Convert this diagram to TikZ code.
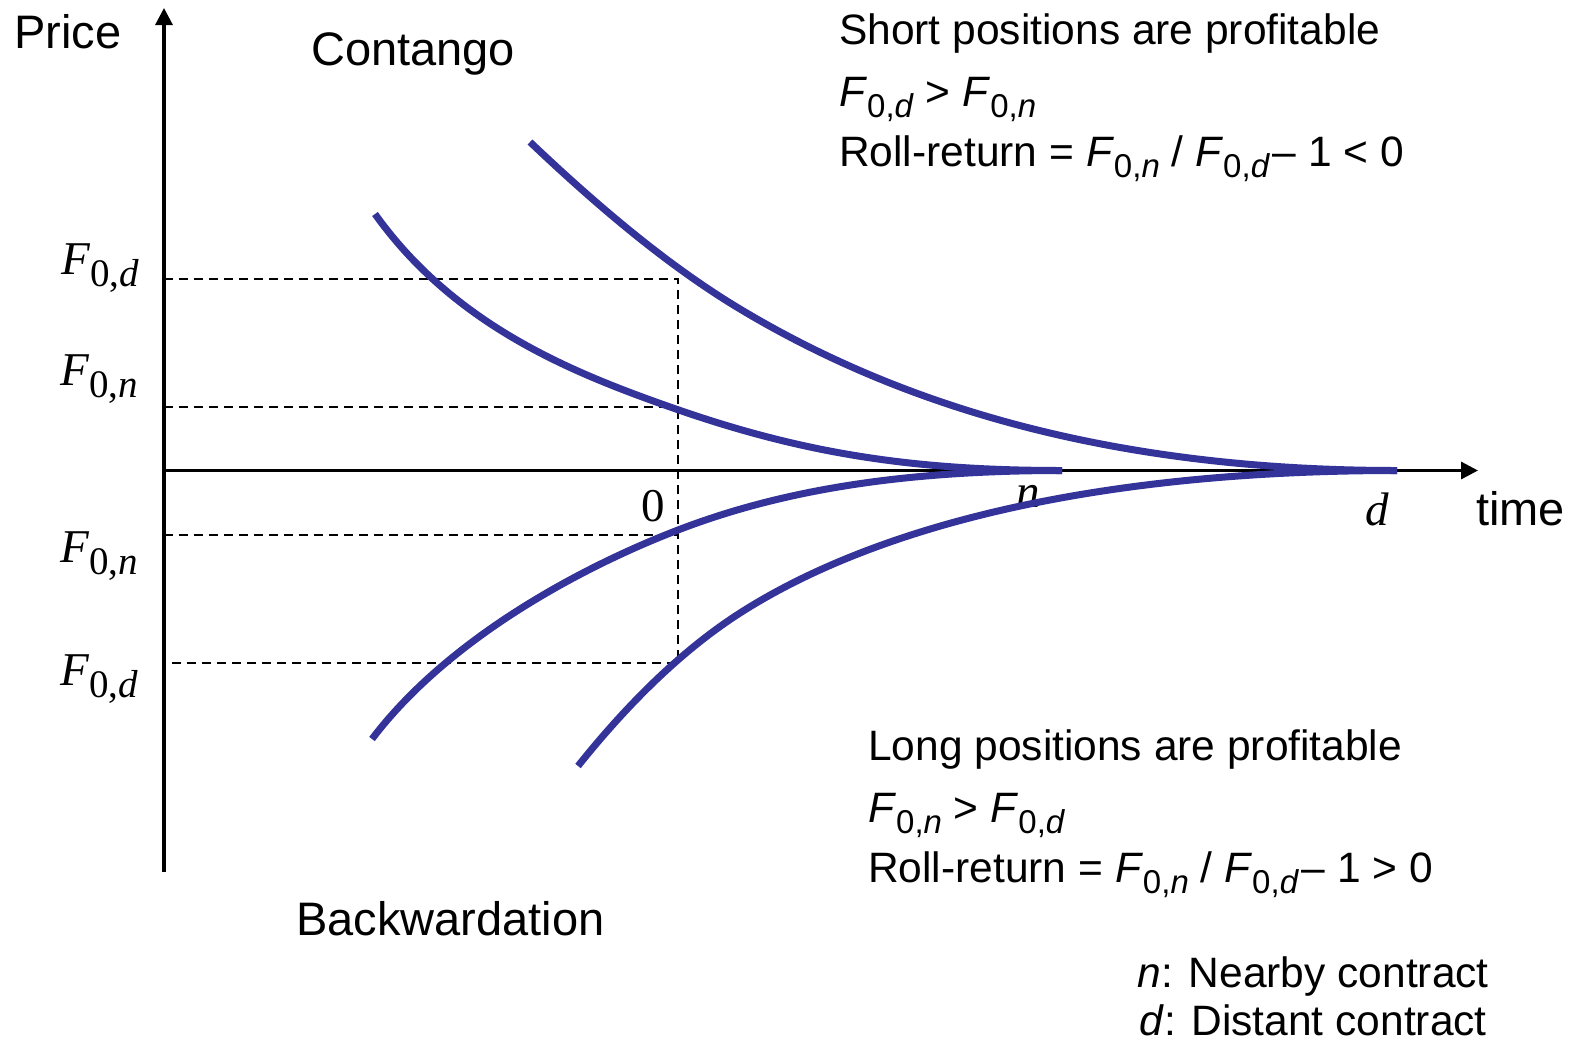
\documentclass[tikz,border=0pt]{standalone}
\usepackage{fontspec}
\setmainfont{Liberation Sans}
\newfontfamily\tmsfont{Liberation Serif}
\usetikzlibrary{arrows.meta}
\definecolor{curveblue}{RGB}{51,51,153}
% sans subscript (right-hand texts)
\newcommand{\ssub}[1]{\raisebox{-11pt}{\fontsize{33}{33}\selectfont #1}}
\newcommand{\FF}[1]{\textit{F}\ssub{0,\textit{#1}}}
% serif subscript (axis labels)
\newcommand{\tsub}[1]{\raisebox{-12pt}{\fontsize{39}{39}\selectfont #1}}
\newcommand{\TF}[1]{\textit{F}\tsub{0,\textit{#1}}}
\begin{document}
\begin{tikzpicture}[x=1pt,y=-1pt,
  axisline/.style={line width=3.2pt,-{Triangle[length=17pt,width=17pt]}},
  dashline/.style={line width=2pt,dash pattern=on 9pt off 6pt},
  curve/.style={line width=7pt,curveblue,line cap=butt},
  biglbl/.style={inner sep=0pt,anchor=base west,font=\fontsize{47}{47}\selectfont},
  rtxt/.style={inner sep=0pt,anchor=base west,font=\fontsize{42.5}{42.5}\selectfont},
  rtxte/.style={inner sep=0pt,anchor=base east,font=\fontsize{42.5}{42.5}\selectfont},
  serlbl/.style={inner sep=0pt,anchor=base west,font=\tmsfont\fontsize{47}{47}\selectfont}]
\useasboundingbox (0,0) rectangle (1576,1042);

% coordinates
\coordinate (O) at (164,470.5);
\coordinate (Ytop) at (164,8);
\coordinate (Ybot) at (164,872);
\coordinate (Xend) at (1478,470.5);
\coordinate (dU) at (164,279);
\coordinate (nU) at (164,407);
\coordinate (nL) at (164,535);
\coordinate (dL) at (164,663);
\coordinate (cdU) at (678,279);
\coordinate (cnU) at (678,407);
\coordinate (cnL) at (678,535);
\coordinate (cdL) at (678,663);

% dashed guides
\draw[dashline] (dU) -- (cdU) -- (cdL) -- (dL);
\draw[dashline] (nU) -- (cnU);
\draw[dashline] (nL) -- (cnL);

% axes
\draw[axisline] (Ybot) -- (Ytop);
\draw[axisline] (O) -- (Xend);

% labels
\node[biglbl] (price) at (14,48) {Price};
\node[biglbl] (contango) at (311,65) {Contango};
\node[biglbl] (backw) at (296,935) {Backwardation};
\node[biglbl] (time) at (1476,525) {time};

\node[serlbl] (lFdU) at (61,274) {\TF{d}};
\node[serlbl] (lFnU) at (60,385) {\TF{n}};
\node[serlbl] (lFnL) at (60,562) {\TF{n}};
\node[serlbl] (lFdL) at (60,685) {\TF{d}};
\node[serlbl] (zero) at (641,521) {0};
\node[serlbl] (tn) at (1016,507) {\textit{n}};
\node[serlbl] (td) at (1365,525) {\textit{d}};

% curves
\draw[curve] (375,214) .. controls (455,326) and (573,373) .. (673,408)
                       .. controls (803,453.5) and (912,470.5) .. (1062,470.5);
\draw[curve] (530,142) .. controls (600,208.5) and (670,267) .. (740,309)
                       .. controls (890,399) and (1097,470.5) .. (1397,470.5);
\draw[curve] (372,739) .. controls (447,640) and (578,568.5) .. (678,530)
                       .. controls (788,487.6) and (912,470.5) .. (1062,470.5);
\draw[curve] (578,766) .. controls (632,698.5) and (686,647.6) .. (740,613)
                       .. controls (860,536.2) and (1067,470.5) .. (1397,470.5);

% right texts
\node[rtxt] (s1) at (839,44) {Short positions are profitable};
\node[rtxt] (s2) at (839,106) {\FF{d} > \FF{n}};
\node[rtxt] (s3) at (839,166) {Roll-return = \FF{n} / \FF{d}\kern3pt– 1 < 0};

\node[rtxt] (l1) at (868,760) {Long positions are profitable};
\node[rtxt] (l2) at (868,822) {\FF{n} > \FF{d}};
\node[rtxt] (l3) at (868,882) {Roll-return = \FF{n} / \FF{d}\kern3pt– 1 > 0};

\node[rtxte] (k1) at (1489,987) {\textit{n}: Nearby contract};
\node[rtxte] (k2) at (1487,1035) {\textit{d}: Distant contract};
\end{tikzpicture}
\end{document}
